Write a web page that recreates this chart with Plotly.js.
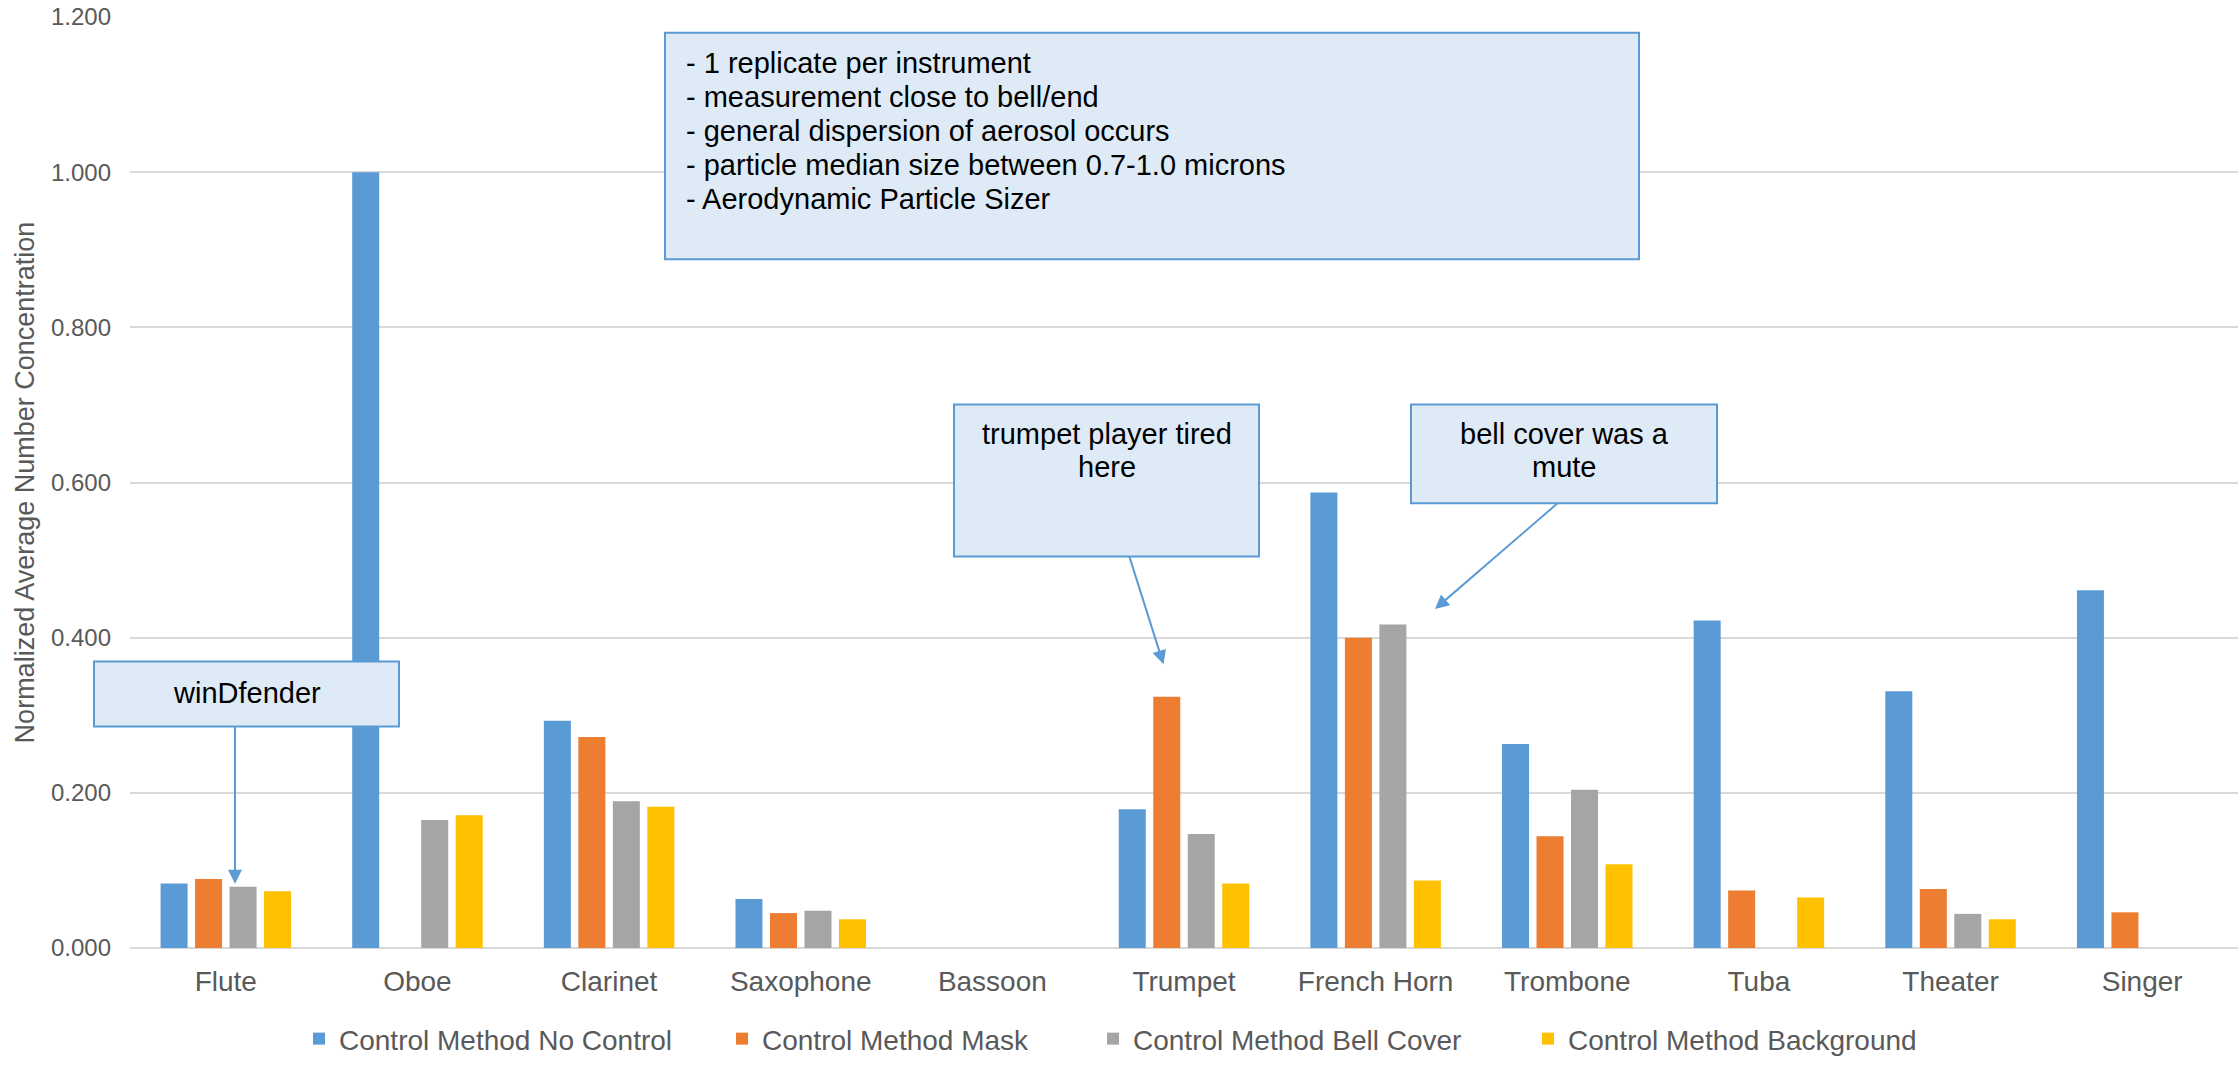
<!DOCTYPE html>
<html>
<head>
<meta charset="utf-8">
<script src="https://cdn.plot.ly/plotly-3.0.1.min.js"></script>
<style>
  html, body { margin: 0; padding: 0; background: #ffffff; }
  #chart { width: 2239px; height: 1065px; }
</style>
</head>
<body>
<div id="chart"></div>
<script>
// Instruments measured
const categories = ['Flute', 'Oboe', 'Clarinet', 'Saxophone', 'Bassoon', 'Trumpet',
                    'French Horn', 'Trombone', 'Tuba', 'Theater', 'Singer'];

// Normalized average number concentration per control method
const noControl  = [0.083, 1.000, 0.293, 0.063, null, 0.179, 0.587, 0.263, 0.422, 0.331, 0.461];
const mask       = [0.089, null,  0.272, 0.045, null, 0.324, 0.400, 0.144, 0.074, 0.076, 0.046];
const bellCover  = [0.079, 0.165, 0.189, 0.048, null, 0.147, 0.417, 0.204, null,  0.044, null];
const background = [0.073, 0.171, 0.182, 0.037, null, 0.083, 0.087, 0.108, 0.065, 0.037, null];

const seriesNames = ['Control Method No Control', 'Control Method Mask',
                     'Control Method Bell Cover', 'Control Method Background'];

// Notes drawn in the text boxes
const noteLines = ['- 1 replicate per instrument',
                   '- measurement close to bell/end',
                   '- general dispersion of aerosol occurs',
                   '- particle median size between 0.7-1.0 microns',
                   '- Aerodynamic Particle Sizer'];
const windLabel = 'winDfender';
const trumpetLines = ['trumpet player tired', 'here'];
const bellLines = ['bell cover was a', 'mute'];

// ---- styling ----
const FONT = '"Liberation Sans", Arial, Helvetica, sans-serif';
const GREY_TEXT = '#595959';
const colors = ['#5B9BD5', '#ED7D31', '#A5A5A5', '#FFC000'];
const BOX_FILL = '#DEEBF7';
const BOX_LINE = '#5B9BD5';

// plot area in page pixels
const W = 2239, H = 1065;
const M = { l: 130, r: 1, t: 17, b: 106 };
const PW = W - M.l - M.r, PH = H - M.t - M.b;
const px = v => (v - M.l) / PW;           // page x -> paper x
const py = v => (M.t + PH - v) / PH;      // page y -> paper y

const seriesValues = [noControl, mask, bellCover, background];
const legendWidths = [378, 326, 390, 360];
const traces = seriesValues.map((vals, i) => ({
  type: 'bar',
  name: seriesNames[i],
  x: categories,
  y: vals,
  marker: { color: colors[i] },
  legendwidth: legendWidths[i],
  hoverinfo: 'x+y+name'
}));

function box(x0, y0, x1, y1) {
  return {
    type: 'rect', xref: 'paper', yref: 'paper', layer: 'above',
    x0: px(x0), x1: px(x1), y0: py(y1), y1: py(y0),
    fillcolor: BOX_FILL, line: { color: BOX_LINE, width: 2 }
  };
}

function label(text, x, y, xanchor) {
  return {
    xref: 'paper', yref: 'paper', x: px(x), y: py(y),
    xanchor: xanchor, yanchor: 'middle', showarrow: false,
    text: text, font: { family: FONT, size: 29, color: '#000000' }
  };
}

function arrow(tailX, tailY, tipX, tipY) {
  return {
    xref: 'paper', yref: 'paper', x: px(tipX), y: py(tipY),
    ax: tailX - tipX, ay: tailY - tipY, text: '',
    showarrow: true, arrowhead: 2, arrowsize: 1.4, arrowwidth: 2,
    arrowcolor: BOX_LINE, standoff: 0
  };
}

const shapes = [
  box(665, 33, 1639, 262),
  box(94, 669, 399, 735),
  box(954, 409, 1259, 563),
  box(1411, 409, 1717, 509)
];

const annotations = [];
noteLines.forEach((t, i) => annotations.push(label(t, 684, 64 + i * 34.4, 'left')));
annotations.push(label(windLabel, 246.5, 701, 'center'));
trumpetLines.forEach((t, i) => annotations.push(label(t, 1106.5, 439 + i * 33, 'center')));
bellLines.forEach((t, i) => annotations.push(label(t, 1564, 439 + i * 33, 'center')));
annotations.push(arrow(235, 735, 235, 894));
annotations.push(arrow(1129, 563, 1163.5, 672));
annotations.push(arrow(1559, 509, 1435, 616));

const layout = {
  width: W, height: H,
  margin: M,
  paper_bgcolor: '#ffffff',
  plot_bgcolor: '#ffffff',
  font: { family: FONT, color: GREY_TEXT },
  barmode: 'group',
  bargap: 0.28,
  bargroupgap: 0.217,
  showlegend: true,
  legend: {
    orientation: 'h',
    x: px(299), xanchor: 'left',
    y: py(1051), yanchor: 'middle',
    font: { family: FONT, size: 28, color: GREY_TEXT },
    itemwidth: 30,
    bgcolor: 'rgba(0,0,0,0)'
  },
  xaxis: {
    type: 'category',
    showgrid: false, showline: false, zeroline: false,
    ticks: '',
    tickfont: { family: FONT, size: 28, color: GREY_TEXT },
    ticklabelstandoff: 14,
    fixedrange: true
  },
  yaxis: {
    range: [0, 1.2],
    dtick: 0.2,
    tick0: 0,
    tickformat: '.3f',
    showgrid: true, gridcolor: '#D9D9D9', gridwidth: 2,
    zeroline: true, zerolinecolor: '#D9D9D9', zerolinewidth: 2,
    showline: false, ticks: '',
    tickfont: { family: FONT, size: 24, color: GREY_TEXT },
    ticklabelstandoff: 18,
    title: {
      text: 'Normalized Average Number Concentration',
      font: { family: FONT, size: 27, color: GREY_TEXT },
      standoff: 8
    },
    automargin: false,
    fixedrange: true
  },
  shapes: shapes,
  annotations: annotations
};

Plotly.newPlot('chart', traces, layout, { displayModeBar: false, staticPlot: true });
</script>
</body>
</html>
